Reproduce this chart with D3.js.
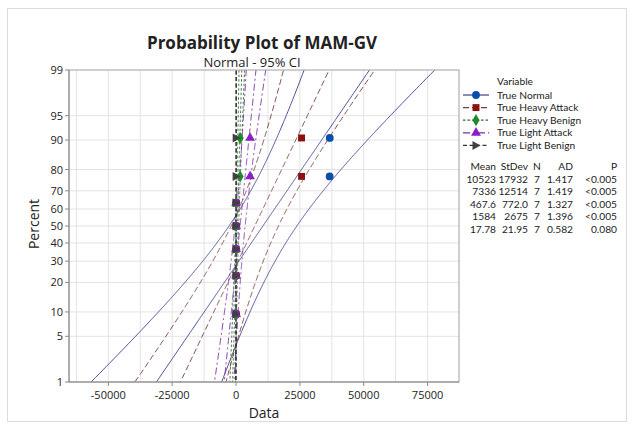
<!DOCTYPE html>
<html>
<head>
<meta charset="utf-8">
<script src="https://cdn.jsdelivr.net/npm/d3@7"></script>
<style>
  body { margin: 0; background: #fff; }
  svg text { font-family: "Open Sans", "Noto Sans", sans-serif; fill: #222; }
  svg .small text { font-family: Lato, "Open Sans", sans-serif; font-size: 10.2px; }
</style>
</head>
<body>
<svg id="chart" width="634" height="429"></svg>
<script>
// series names (legend order)
const seriesNames = ["True Normal", "True Heavy Attack", "True Heavy Benign", "True Light Attack", "True Light Benign"];

const trueNormal      = [20, 40, 60, 80, 100, 36650, 36700];
const trueHeavyAttack = [5, 8, 10, 12, 17, 25650, 25650];
const trueHeavyBenign = [8, 10, 15, 18, 22, 1600, 1600];
const trueLightAttack = [10, 14, 18, 20, 26, 5500, 5500];
const trueLightBenign = [1, 3, 5, 7, 9, 47, 52.5];

// median rank plotting positions (percent) for N = 7
const rankPercents = [9.46, 22.97, 36.49, 50.0, 63.51, 77.03, 90.54];

// statistics table
const means   = [10523, 7336, 467.6, 1584, 17.78];
const stdevs  = [17932, 12514, 772.0, 2675, 21.95];
const counts  = [7, 7, 7, 7, 7];
const adStats = ["1.417", "1.419", "1.327", "1.396", "0.582"];
const pValues = ["<0.005", "<0.005", "<0.005", "<0.005", "0.080"];
const meanLabels  = ["10523", "7336", "467.6", "1584", "17.78"];
const stdevLabels = ["17932", "12514", "772.0", "2675", "21.95"];

// axis ticks
const percentTicks = [1, 5, 10, 20, 30, 40, 50, 60, 70, 80, 90, 95, 99];
const xTicks = [-50000, -25000, 0, 25000, 50000, 75000];

const seriesData = [trueNormal, trueHeavyAttack, trueHeavyBenign, trueLightAttack, trueLightBenign];

// look
const markerColors = ["#0a4fa8", "#8b1010", "#1e8a2a", "#8a1fc8", "#404040"];
const lineColors   = ["#3d3d8f", "#7a3b3b", "#2f6a2f", "#7a2aa8", "#333333"];
const dashes       = [null, "6,3", "2.5,2", "7,3,2,3", "4,2.5"];
const markerShapes = [d3.symbolCircle, d3.symbolSquare, d3.symbolDiamond, d3.symbolTriangle, "right"];

// inverse normal CDF (Acklam)
function qnorm(p) {
    const a = [-3.969683028665376e+01, 2.209460984245205e+02, -2.759285104469687e+02, 1.383577518672690e+02, -3.066479806614716e+01, 2.506628277459239e+00];
    const b = [-5.447609879822406e+01, 1.615858368580409e+02, -1.556989798598866e+02, 6.680131188771972e+01, -1.328068155288572e+01];
    const c = [-7.784894002430293e-03, -3.223964580411365e-01, -2.400758277161838e+00, -2.549732539343734e+00, 4.374664141464968e+00, 2.938163982698783e+00];
    const d = [7.784695709041462e-03, 3.224671290700398e-01, 2.445134137142996e+00, 3.754408661907416e+00];
    const pl = 0.02425, ph = 1 - pl;
    let q, r;
    if (p < pl) {
        q = Math.sqrt(-2 * Math.log(p));
        return (((((c[0]*q+c[1])*q+c[2])*q+c[3])*q+c[4])*q+c[5]) / ((((d[0]*q+d[1])*q+d[2])*q+d[3])*q+1);
    }
    if (p <= ph) {
        q = p - 0.5; r = q * q;
        return (((((a[0]*r+a[1])*r+a[2])*r+a[3])*r+a[4])*r+a[5])*q / (((((b[0]*r+b[1])*r+b[2])*r+b[3])*r+b[4])*r+1);
    }
    q = Math.sqrt(-2 * Math.log(1 - p));
    return -(((((c[0]*q+c[1])*q+c[2])*q+c[3])*q+c[4])*q+c[5]) / ((((d[0]*q+d[1])*q+d[2])*q+d[3])*q+1);
}

const svg = d3.select("#chart");

// layout of plot area
const plotLeft = 69, plotRight = 459, plotTop = 70, plotBottom = 382;

const x = d3.scaleLinear().domain([-65400, 87300]).range([plotLeft, plotRight]);
const zMax = qnorm(0.99);
const y = d3.scaleLinear().domain([-zMax, zMax]).range([plotBottom, plotTop]);
const yPct = (p) => y(qnorm(p / 100));

// outer frame
svg.append("rect")
    .attr("x", 7.5).attr("y", 8.5).attr("width", 619).attr("height", 413)
    .attr("fill", "none").attr("stroke", "#dcdcdc");

// gridlines
const grid = svg.append("g");
grid.selectAll("line.h")
    .data(percentTicks.slice(1, -1))
    .enter().append("line")
    .attr("x1", plotLeft).attr("x2", plotRight)
    .attr("y1", (d) => yPct(d)).attr("y2", (d) => yPct(d))
    .style("stroke", "#e3e3e3");
grid.selectAll("line.v")
    .data(d3.range(-62500, 87300, 12500))
    .enter().append("line")
    .attr("y1", plotTop).attr("y2", plotBottom)
    .attr("x1", (d) => x(d)).attr("x2", (d) => x(d))
    .style("stroke", "#e3e3e3");

// clip for fitted lines
svg.append("clipPath").attr("id", "clip")
    .append("rect").attr("x", plotLeft).attr("y", plotTop).attr("width", plotRight - plotLeft).attr("height", plotBottom - plotTop);

// fitted line and 95% CI for each series
const probs = d3.range(0.2, 99.81, 0.2);
const lines = svg.append("g").attr("clip-path", "url(#clip)");
const lineGen = d3.line().x((d) => x(d[0])).y((d) => yPct(d[1]));

seriesNames.forEach((name, i) => {
    const m = means[i], s = stdevs[i], n = counts[i];
    const fit = probs.map((p) => [m + qnorm(p / 100) * s, p]);
    const se = (p) => s * Math.sqrt(1 / n + Math.pow(qnorm(p / 100), 2) / (2 * n));
    const lo = probs.map((p) => [m + qnorm(p / 100) * s - 1.96 * se(p), p]);
    const hi = probs.map((p) => [m + qnorm(p / 100) * s + 1.96 * se(p), p]);
    [fit, lo, hi].forEach((pts) => {
        lines.append("path")
            .attr("d", lineGen(pts))
            .attr("fill", "none")
            .attr("stroke", lineColors[i])
            .attr("stroke-width", 0.9)
            .attr("stroke-dasharray", dashes[i]);
    });
});

// markers
function drawMarker(g, shape, color, size) {
    if (shape === "right") {
        g.append("path").attr("d", "M-3.5,-4.5L4.5,0L-3.5,4.5Z").attr("fill", color);
    } else {
        g.append("path").attr("d", d3.symbol().type(shape).size(size)()).attr("fill", color);
    }
}
const markerSizes = [48, 48, 44, 42, 0];

seriesData.forEach((vals, i) => {
    vals.forEach((v, k) => {
        const g = svg.append("g").attr("transform", `translate(${x(v)},${yPct(rankPercents[k])})`);
        drawMarker(g, markerShapes[i], markerColors[i], markerSizes[i]);
    });
});

// plot frame
svg.append("rect")
    .attr("x", plotLeft).attr("y", plotTop).attr("width", plotRight - plotLeft).attr("height", plotBottom - plotTop)
    .attr("fill", "none").attr("stroke", "#a0a0a0");
svg.append("line").attr("x1", plotLeft).attr("x2", plotLeft).attr("y1", plotTop).attr("y2", plotBottom).style("stroke", "#8a8a8a");
svg.append("line").attr("x1", plotLeft).attr("x2", plotRight).attr("y1", plotBottom).attr("y2", plotBottom).style("stroke", "#8a8a8a");

// y axis
const yAxis = svg.append("g");
percentTicks.forEach((p) => {
    yAxis.append("line").attr("x1", plotLeft - 4).attr("x2", plotLeft)
        .attr("y1", yPct(p)).attr("y2", yPct(p)).style("stroke", "#8a8a8a");
    yAxis.append("text").attr("x", plotLeft - 6).attr("y", yPct(p) + 4)
        .attr("text-anchor", "end").style("font-size", "11px").text(p);
});

// x axis
const xAxis = svg.append("g");
xTicks.forEach((t) => {
    xAxis.append("line").attr("x1", x(t)).attr("x2", x(t))
        .attr("y1", plotBottom).attr("y2", plotBottom + 4).style("stroke", "#8a8a8a");
    xAxis.append("text").attr("x", x(t)).attr("y", plotBottom + 17)
        .attr("text-anchor", "middle").style("font-size", "11px").text(t);
});

// axis titles
svg.append("text").attr("x", 264).attr("y", 418).attr("text-anchor", "middle")
    .style("font-size", "14px").text("Data");
svg.append("text").attr("transform", "translate(39,224) rotate(-90)").attr("text-anchor", "middle")
    .style("font-size", "14px").text("Percent");

// titles
svg.append("text").attr("x", 262).attr("y", 49).attr("text-anchor", "middle")
    .style("font-size", "17px").style("font-weight", "bold").text("Probability Plot of MAM-GV");
svg.append("text").attr("x", 252).attr("y", 67).attr("text-anchor", "middle")
    .style("font-size", "13px").text("Normal - 95% CI");

// legend
const legend = svg.append("g").attr("class", "small");
legend.append("text").attr("x", 497).attr("y", 85).text("Variable");
seriesNames.forEach((name, i) => {
    const ly = 95 + i * 12.6;
    legend.append("line").attr("x1", 463).attr("x2", 489).attr("y1", ly).attr("y2", ly)
        .attr("stroke", lineColors[i]).attr("stroke-width", 1.2).attr("stroke-dasharray", dashes[i]);
    const g = legend.append("g").attr("transform", `translate(476,${ly})`);
    drawMarker(g, markerShapes[i], markerColors[i], markerSizes[i]);
    legend.append("text").attr("x", 497).attr("y", ly + 3.6).text(name);
});

// statistics table
const table = svg.append("g").attr("class", "small");
const cols = [
    { x: 496, anchor: "end", head: "Mean", vals: meanLabels },
    { x: 528, anchor: "end", head: "StDev", vals: stdevLabels },
    { x: 537, anchor: "middle", head: "N", vals: counts },
    { x: 573, anchor: "end", head: "AD", vals: adStats },
    { x: 617, anchor: "end", head: "P", vals: pValues }
];
cols.forEach((c) => {
    table.append("text").attr("x", c.x).attr("y", 170).attr("text-anchor", c.anchor).text(c.head);
    c.vals.forEach((v, r) => {
        table.append("text").attr("x", c.x).attr("y", 183 + r * 12.4).attr("text-anchor", c.anchor).text(v);
    });
});
</script>
</body>
</html>
